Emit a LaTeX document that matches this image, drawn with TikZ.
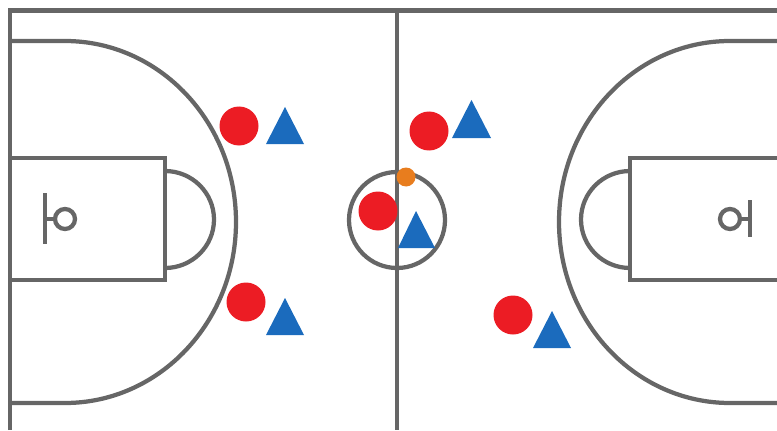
\documentclass[tikz,border=0pt]{standalone}
\definecolor{garis}{HTML}{666666}
\definecolor{timmerah}{HTML}{EC1C24}
\definecolor{timbiru}{HTML}{1B6BBD}
\definecolor{bola}{HTML}{E87D1E}
\tikzset{
  garisan/.style={draw=garis, line width=0.085cm},
  merah/.style={fill=timmerah},
  biru/.style={fill=timbiru},
}
\begin{document}
\begin{tikzpicture}[x=0.02cm, y=0.02cm]
  \useasboundingbox (0,0) rectangle (777,430);
  % batas lapangan
  \coordinate (KiriAtas) at (10,419);
  \coordinate (KiriBawah) at (10,0);
  \coordinate (KananAtas) at (777,419);
  \coordinate (TengahAtas) at (397,419);
  \coordinate (TengahBawah) at (397,0);
  \draw[garisan, line width=0.1cm] (KiriBawah) -- (KiriAtas) -- (KananAtas);
  \draw[garisan] (TengahAtas) -- (TengahBawah);
  \draw[garisan] (397,210) circle (48);
  % sisi kiri
  \draw[garisan] (10,389) -- (65,389) arc (90:-90:171 and 181) -- (10,27);
  \draw[garisan] (10,272) -- (165,272) -- (165,150) -- (10,150);
  \draw[garisan] (165,259) arc (90:-90:49 and 48.5);
  \draw[garisan] (45,237) -- (45,186);
  \draw[garisan] (45,211) -- (55,211);
  \draw[garisan] (65,211) circle (10);
  % sisi kanan
  \draw[garisan] (777,389) -- (730,389) arc (90:270:171 and 181) -- (777,27);
  \draw[garisan] (777,272) -- (630,272) -- (630,150) -- (777,150);
  \draw[garisan] (630,259) arc (90:270:49 and 48.5);
  \draw[garisan] (750,230) -- (750,193);
  \draw[garisan] (750,211) -- (740,211);
  \draw[garisan] (730,211) circle (10);
  % tim merah
  \fill[merah] (239,304) circle (19.5);
  \fill[merah] (246,128) circle (19.5);
  \fill[merah] (429,299) circle (19.5);
  \fill[merah] (378,219) circle (19.5);
  \fill[merah] (513,115) circle (19.5);
  % tim biru
  \fill[biru] (285,323) -- (304,286) -- (266,286) -- cycle;
  \fill[biru] (285,132) -- (304,95) -- (266,95) -- cycle;
  \fill[biru] (471.5,330) -- (491,292) -- (452,292) -- cycle;
  \fill[biru] (416,219) -- (435,182) -- (398,182) -- cycle;
  \fill[biru] (552,119) -- (571,82) -- (533,82) -- cycle;
  % bola
  \fill[bola] (406,253) circle (9.5);
\end{tikzpicture}
\end{document}
